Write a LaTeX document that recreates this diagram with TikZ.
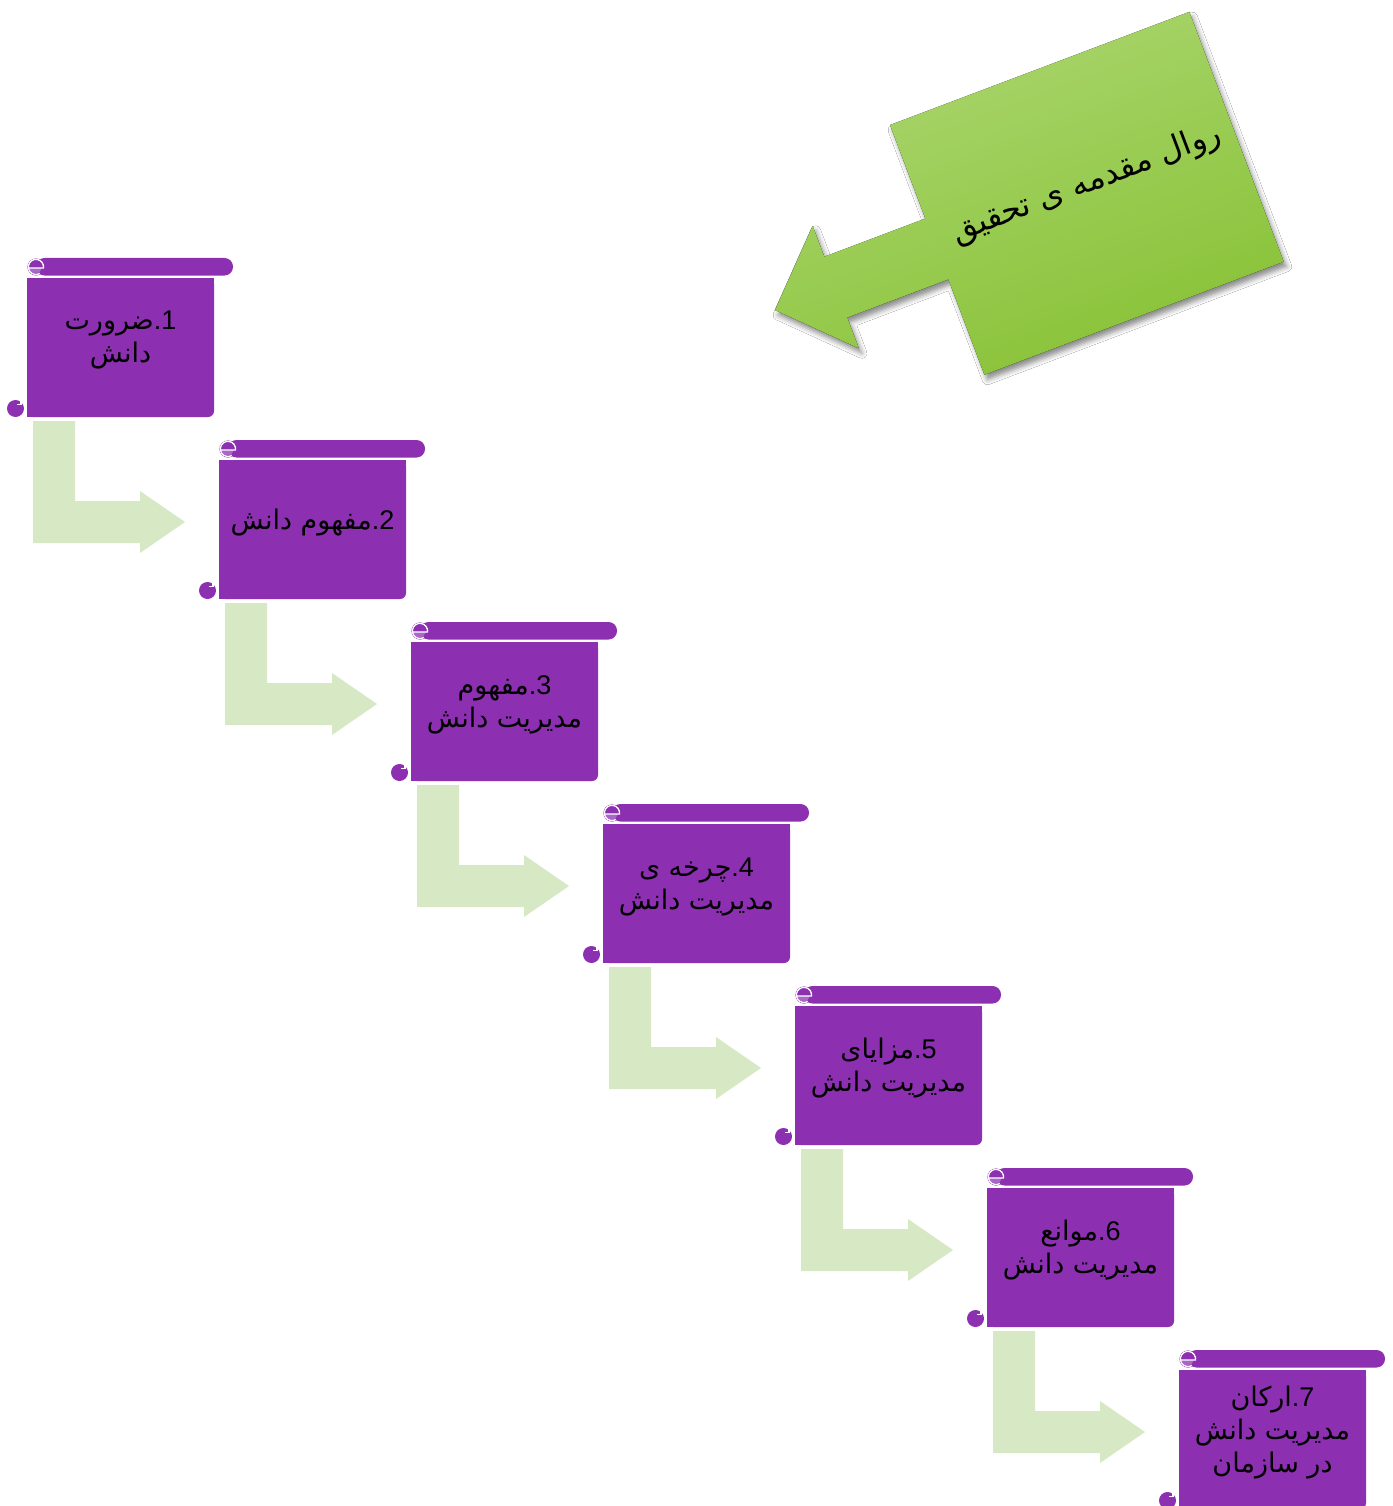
\documentclass[tikz,border=0pt]{standalone}
\usepackage{fontspec}
\usetikzlibrary{calc,shadows.blur}
\TeXXeTstate=1
\newfontfamily\arabicfont[Script=Arabic]{DejaVu Sans}
\newfontfamily\numfont{Liberation Sans}

\definecolor{scrollpurple}{HTML}{8C2FB0}
\definecolor{curlshade}{HTML}{A768C6}
\definecolor{steparrow}{HTML}{D7E8C5}
\definecolor{greenlight}{HTML}{ABD670}
\definecolor{greendark}{HTML}{88C236}

\tikzset{
  bodyarea/.style={minimum width=187pt, minimum height=139pt, inner sep=0pt, outer sep=0pt, anchor=north west},
  steptext/.style={align=center, font=\arabicfont\fontsize{27}{33}\selectfont, text=black, inner sep=0pt},
  bentarrow/.style={fill=steparrow},
  curlline/.style={white, line width=1.3pt},
  titletext/.style={font=\arabicfont\fontsize{32}{38}\selectfont, text=black, inner sep=0pt, rotate=20.7},
}

% number and full stop as separate runs, so that they order right to left
\newcommand{\stepnum}[1]{{\numfont #1\kern0pt.\kern0pt}}

% one scroll-shaped step with its label
\newcommand{\scrollstep}[2]{%
  \pgfmathsetmacro{\ox}{27+192*(#1-1)}%
  \pgfmathsetmacro{\oy}{-(258+182*(#1-1))}%
  % rolled top bar
  \fill[scrollpurple, rounded corners=8.5pt] (\ox+9,\oy) rectangle (\ox+206,\oy-17.5);
  % top-left curl, drawn as a small "e"
  \fill[scrollpurple] (\ox+9,\oy-9) circle[radius=8.6];
  \fill[curlshade] (\ox+2,\oy-10) -- (\ox+15,\oy-10) -- (\ox+12,\oy-15) arc[start angle=300, end angle=180, radius=6.2] -- cycle;
  \draw[curlline] (\ox+1.6,\oy-10) -- (\ox+16.5,\oy-10) arc[start angle=-8, end angle=300, radius=7.6];
  % sheet
  \node[bodyarea] (b#1) at (\ox,\oy-20) {};
  \fill[scrollpurple, rounded corners=6pt] (b#1.south west) rectangle (b#1.north east);
  \fill[scrollpurple] (b#1.north west) rectangle ([xshift=-8pt]b#1.south east);
  \fill[scrollpurple] (b#1.north west) rectangle ([yshift=8pt]b#1.south east);
  % bottom-left curl
  \fill[scrollpurple] (\ox-11.5,\oy-150.5) circle[radius=8.5];
  \draw[white, line width=1.1pt] (\ox-6,\oy-141.5) -- (\ox-6,\oy-146.5);
  \draw[white, line width=1.1pt] (\ox-10,\oy-146.5) -- (\ox-5.5,\oy-146.5);
  \draw[white, line width=1pt] (\ox-1.2,\oy-142) -- (\ox-1.2,\oy-159);
  % label
  \node[steptext] (t#1) at ([yshift=7pt]b#1.center) {#2};
}

% bent arrow from the foot of one step towards the next
\newcommand{\stepturn}[1]{%
  \begin{scope}[shift={(b#1.south west)}]
    \fill[bentarrow] (6,-4) -- (48,-4) -- (48,-84) -- (113,-84) -- (113,-74)
      -- (158,-105) -- (113,-136) -- (113,-126) -- (6,-126) -- cycle;
  \end{scope}
}

\begin{document}
\begin{tikzpicture}[x=1pt,y=1pt]
\fill[white] (0,0) rectangle (1392,-1506);
\useasboundingbox (0,0) rectangle (1392,-1506);

% big arrow with the heading
\begin{scope}[shift={(890,-125)}, rotate=20.7]
  \fill[top color=greenlight, bottom color=greendark, shading angle=20.7,
        blur shadow={shadow xshift=3pt, shadow yshift=-5pt, shadow blur radius=5pt, shadow opacity=45}]
    (0,0) -- (320,0) -- (320,-267) -- (0,-267) -- (0,-165) -- (-108,-165)
    -- (-108,-198) -- (-173,-132.5) -- (-108,-67) -- (-108,-100) -- (0,-100) -- cycle;
  \node[titletext] (title) at (163,-125) {\beginR روال مقدمه ی تحقیق\endR};
\end{scope}

\scrollstep{1}{\beginR\stepnum{1}ضرورت\endR\\\beginR دانش\endR}
\scrollstep{2}{\beginR\stepnum{2}مفهوم دانش\endR}
\scrollstep{3}{\beginR\stepnum{3}مفهوم\endR\\\beginR مدیریت دانش\endR}
\scrollstep{4}{\beginR\stepnum{4}چرخه ی\endR\\\beginR مدیریت دانش\endR}
\scrollstep{5}{\beginR\stepnum{5}مزایای\endR\\\beginR مدیریت دانش\endR}
\scrollstep{6}{\beginR\stepnum{6}موانع\endR\\\beginR مدیریت دانش\endR}
\scrollstep{7}{\beginR\stepnum{7}ارکان\endR\\\beginR مدیریت دانش\endR\\\beginR در سازمان\endR}

\foreach \k in {1,...,6} {\stepturn{\k}}
\end{tikzpicture}
\end{document}
